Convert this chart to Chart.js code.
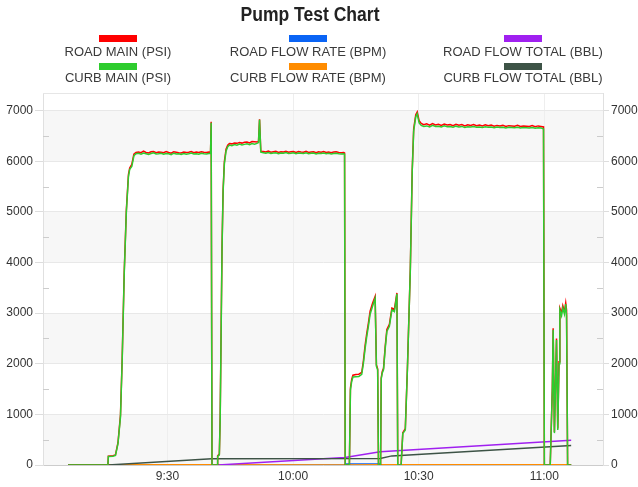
<!DOCTYPE html>
<html><head><meta charset="utf-8">
<script src="https://cdn.jsdelivr.net/npm/chart.js@4.4.1/dist/chart.umd.min.js"></script>
<style>html,body{margin:0;padding:0;background:#fff}canvas{display:block}</style>
</head><body>
<canvas id="c" width="638" height="487"></canvas>
<script>
// ---- DATA (time in minutes since midnight) ----
const seriesLabels = ['ROAD MAIN (PSI)','ROAD FLOW RATE (BPM)','ROAD FLOW TOTAL (BBL)','CURB MAIN (PSI)','CURB FLOW RATE (BPM)','CURB FLOW TOTAL (BBL)'];
const xTickValues = [570, 600, 630, 660];
const xTickLabels = ['9:30', '10:00', '10:30', '11:00'];
const yTickValues = [0, 1000, 2000, 3000, 4000, 5000, 6000, 7000];

const mainTimes = [
  546.3, 555.8, 555.9, 557.0, 557.6, 558.2, 558.8, 559.2, 559.7, 560.2, 560.7, 561.0, 561.5, 562.0, 562.5,
  563.1, 563.7, 564.3, 564.9, 565.5, 566.1, 566.7, 567.3, 567.9, 568.5, 569.1, 569.7, 570.3, 570.9, 571.5, 572.1, 572.7, 573.3, 573.9, 574.5, 575.1, 575.7, 576.3, 576.9, 577.5, 578.1, 578.7, 579.3, 579.9,
  580.3, 580.45, 580.65, 581.9, 582.0, 582.4, 582.6, 582.85, 583.05, 583.3, 583.6, 584.0, 584.4, 584.8,
  585.4, 586.0, 586.6, 587.2, 587.8, 588.4, 589.0, 589.6, 590.2, 590.8, 591.4,
  591.75, 592.0, 592.3,
  592.9, 593.5, 594.1, 594.7, 595.3, 595.9, 596.5, 597.1, 597.7, 598.3, 598.9, 599.5, 600.1, 600.7, 601.3, 601.9, 602.5, 603.1, 603.7, 604.3, 604.9, 605.5, 606.1, 606.7, 607.3, 607.9, 608.5, 609.1, 609.7, 610.3, 610.9, 611.5, 612.1,
  612.3, 612.45, 613.45, 613.7, 614.0, 614.3, 615.0, 615.7, 616.4, 616.8, 617.2, 617.6, 618.0, 618.4, 619.0, 619.6, 619.9, 620.2, 620.4, 620.9,
  621.05, 621.3, 621.6, 622.0, 622.4, 623.0, 623.6, 624.2, 624.8, 625.0, 625.8, 626.2, 626.8, 627.3, 628.0, 628.45, 628.8, 629.3, 629.65, 630.1, 630.6,
  631.2, 631.9, 632.6, 633.3, 634.0, 634.7, 635.4, 636.1, 636.8, 637.5, 638.2, 638.9, 639.6, 640.3, 641.0, 641.7, 642.4, 643.1, 643.8, 644.5, 645.2, 645.9, 646.6, 647.3, 648.0, 648.7, 649.4, 650.1, 650.8, 651.5, 652.2, 652.9, 653.6, 654.3, 655.0, 655.7, 656.4, 657.1, 657.8, 658.5, 659.2,
  659.8, 660.0, 661.4, 661.9, 662.1, 662.4, 662.9, 663.2, 663.5, 663.7, 664.1, 664.4, 664.8, 665.1, 665.3, 665.55, 666.4
];
const curbMain = [
  0, 0, 170, 175, 190, 420, 950, 2050, 3800, 5000, 5700, 5840, 5900, 6110, 6150,
  6160, 6140, 6165, 6150, 6135, 6155, 6170, 6145, 6150, 6160, 6140, 6155, 6150, 6130, 6160, 6145, 6150, 6135, 6155, 6140, 6150, 6165, 6145, 6150, 6140, 6160, 6150, 6145, 6155,
  6160, 6760, 0, 0, 170, 200, 900, 2800, 4300, 5400, 5950, 6200, 6290, 6320,
  6310, 6330, 6320, 6340, 6325, 6335, 6345, 6330, 6350, 6340, 6355,
  6370, 6820, 6180,
  6170, 6160, 6175, 6155, 6165, 6170, 6150, 6165, 6160, 6175, 6155, 6160, 6170, 6150, 6165, 6160, 6155, 6170, 6150, 6160, 6165, 6145, 6160, 6155, 6165, 6150, 6160, 6145, 6155, 6160, 6150, 6145, 6150,
  6140, 0, 0, 1480, 1650, 1740, 1745, 1750, 1790, 2010, 2300, 2540, 2750, 2980, 3140, 3290, 1950, 1880, 0, 0,
  1700, 1820, 1880, 2300, 2640, 2740, 3065, 3030, 3380, 0, 0, 620, 690, 1880, 3860, 5800, 6600, 6880, 6940, 6760, 6710,
  6690, 6700, 6680, 6710, 6690, 6695, 6680, 6700, 6685, 6690, 6675, 6695, 6680, 6690, 6670, 6685, 6680, 6690, 6675, 6680, 6670, 6685, 6675, 6680, 6665, 6680, 6670, 6675, 6660, 6675, 6670, 6665, 6675, 6660, 6670, 6665, 6660, 6670, 6655, 6665, 6660,
  6640, 0, 0, 1500, 2670, 630, 2470, 690, 2000, 3060, 2950, 3100, 2980, 3180, 2950, 0, 0
];
const roadMain = [
  0, 0, 175, 185, 200, 440, 990, 2090, 3840, 5040, 5740, 5870, 5940, 6140, 6175,
  6185, 6170, 6200, 6175, 6165, 6190, 6195, 6170, 6185, 6180, 6170, 6195, 6175, 6160, 6190, 6180, 6170, 6165, 6185, 6175, 6180, 6195, 6170, 6185, 6175, 6190, 6180, 6175, 6185,
  6180, 6780, 0, 0, 180, 215, 950, 2850, 4350, 5440, 5990, 6240, 6320, 6350,
  6345, 6360, 6355, 6370, 6360, 6375, 6380, 6365, 6390, 6385, 6380,
  6395, 6830, 6200,
  6195, 6185, 6205, 6180, 6190, 6200, 6175, 6190, 6185, 6200, 6180, 6190, 6195, 6175, 6195, 6185, 6180, 6200, 6175, 6185, 6190, 6170, 6190, 6180, 6195, 6175, 6185, 6170, 6185, 6190, 6175, 6170, 6175,
  6165, 0, 0, 1520, 1690, 1775, 1790, 1795, 1830, 2060, 2360, 2600, 2810, 3040, 3200, 3330, 1980, 1900, 0, 0,
  1720, 1850, 1910, 2340, 2680, 2780, 3100, 3080, 3400, 0, 0, 640, 720, 1900, 3880, 5830, 6640, 6920, 6975, 6800, 6750,
  6725, 6740, 6715, 6745, 6720, 6730, 6710, 6735, 6720, 6725, 6705, 6730, 6715, 6725, 6700, 6720, 6710, 6725, 6705, 6715, 6700, 6720, 6705, 6715, 6695, 6710, 6700, 6710, 6690, 6705, 6700, 6695, 6710, 6690, 6700, 6695, 6690, 6705, 6685, 6700, 6690,
  6680, 0, 0, 1520, 2700, 650, 2500, 720, 2040, 3100, 3010, 3150, 3030, 3200, 3060, 0, 0
];

const roadRateTimes = [546.3, 612.4, 612.6, 620.8, 621.0, 666.4];
const roadRate      = [0, 0, 20, 20, 0, 0];
const curbRateTimes = [546.3, 555.8, 580.6, 612.4, 620.8, 666.4];
const curbRate      = [0, 5, 5, 0, 5, 5];

const roadTotalTimes = [582.07, 607.2, 612.4, 620.8, 666.4];
const roadTotal      = [0, 125, 150, 260, 490];
const curbTotalTimes = [546.3, 555.85, 580.6, 620.8, 623.6, 666.4];
const curbTotal      = [0, 0, 125, 130, 180, 385];

// ---- BUILD ----
const pts = (t, v) => t.map((x, i) => ({x, y: v[i]}));
const colors = ['#ff0000', '#0a64f5', '#a020f0', '#2ecc2e', '#ff8c00', '#3d5346'];
const seriesData = [
  pts(mainTimes, roadMain), pts(roadRateTimes, roadRate), pts(roadTotalTimes, roadTotal),
  pts(mainTimes, curbMain), pts(curbRateTimes, curbRate), pts(curbTotalTimes, curbTotal)
];
const drawOrder = [1, 5, 3, 0, 4, 2];
const FONT = "'Liberation Sans', Arial, Helvetica, sans-serif";

const decor = {
  id: 'decor',
  beforeDraw(chart) {
    const {ctx, chartArea: a, scales: {y}} = chart;
    ctx.save();
    ctx.fillStyle = '#f7f7f7';
    for (let i = 0; i + 1 < yTickValues.length; i += 2) {
      const t = y.getPixelForValue(yTickValues[i + 1]), b = y.getPixelForValue(yTickValues[i]);
      ctx.fillRect(a.left, t, a.right - a.left, b - t);
    }
    ctx.restore();
  },
  afterDraw(chart) {
    const {ctx, chartArea: a, scales: {y}} = chart;
    ctx.save();
    // minor ticks
    ctx.strokeStyle = '#cccccc'; ctx.lineWidth = 1;
    for (let i = 0; i + 1 < yTickValues.length; i++) {
      const py = Math.round(y.getPixelForValue((yTickValues[i] + yTickValues[i + 1]) / 2)) + 0.5;
      ctx.beginPath(); ctx.moveTo(a.left, py); ctx.lineTo(a.left + 6, py);
      ctx.moveTo(a.right - 6, py); ctx.lineTo(a.right, py); ctx.stroke();
    }
    // top border
    ctx.strokeStyle = '#e6e6e6';
    ctx.beginPath(); ctx.moveTo(a.left, Math.round(a.top) + 0.5); ctx.lineTo(a.right, Math.round(a.top) + 0.5); ctx.stroke();
    // title (condensed bold)
    ctx.fillStyle = '#222';
    ctx.font = "bold 20px " + FONT;
    ctx.textAlign = 'center'; ctx.textBaseline = 'alphabetic';
    const tw = ctx.measureText('Pump Test Chart').width;
    ctx.save();
    ctx.translate(310, 21);
    ctx.scale(139 / tw, 1);
    ctx.fillText('Pump Test Chart', 0, 0);
    ctx.restore();
    // legend
    const colX = [118, 308, 523];
    const boxY = [35, 63], textY = [56, 82];
    ctx.font = '13px ' + FONT;
    seriesLabels.forEach((lab, i) => {
      const c = i % 3, r = Math.floor(i / 3);
      ctx.fillStyle = colors[i];
      ctx.fillRect(colX[c] - 19, boxY[r], 38, 7);
      ctx.fillStyle = '#3a3a3a';
      ctx.fillText(lab, colX[c], textY[r]);
    });
    ctx.restore();
  }
};

const fmtTime = v => { const i = xTickValues.indexOf(v); return i >= 0 ? xTickLabels[i] : ''; };
const yAxis = (pos, tl, w, onArea) => ({
  position: pos, min: 0, max: 7350,
  afterBuildTicks: s => { s.ticks = yTickValues.map(v => ({value: v})); },
  ticks: {font: {size: 12, family: FONT}, color: '#333', padding: 2, callback: v => String(v)},
  grid: {color: '#e8e8e8', tickLength: tl, drawOnChartArea: onArea, tickColor: '#dddddd'},
  border: {color: '#e0e0e0'},
  afterFit: s => { s.width = w; }
});

new Chart(document.getElementById('c'), {
  type: 'line',
  data: {
    datasets: seriesLabels.map((lab, i) => ({
      label: lab, data: seriesData[i], borderColor: colors[i], backgroundColor: colors[i],
      borderWidth: 1.5, pointRadius: 0, fill: false, tension: 0, order: drawOrder[i], yAxisID: 'y'
    }))
  },
  options: {
    responsive: false, animation: false, devicePixelRatio: 1,
    layout: {padding: {top: 93, left: 0, right: 0, bottom: 0}},
    plugins: {legend: {display: false}, title: {display: false}, tooltip: {enabled: false}},
    scales: {
      x: {
        type: 'linear', min: 540.3, max: 674,
        afterBuildTicks: s => { s.ticks = xTickValues.map(v => ({value: v})); },
        ticks: {font: {size: 12, family: FONT}, color: '#333', padding: 4, maxRotation: 0, autoSkip: false, callback: fmtTime},
        grid: {color: '#eeeeee', drawTicks: false},
        border: {color: '#cccccc'},
        afterFit: s => { s.height = 22; }
      },
      y: yAxis('left', 8, 43, true),
      y2: yAxis('right', 6, 35, false)
    }
  },
  plugins: [decor]
});
</script>
</body></html>
